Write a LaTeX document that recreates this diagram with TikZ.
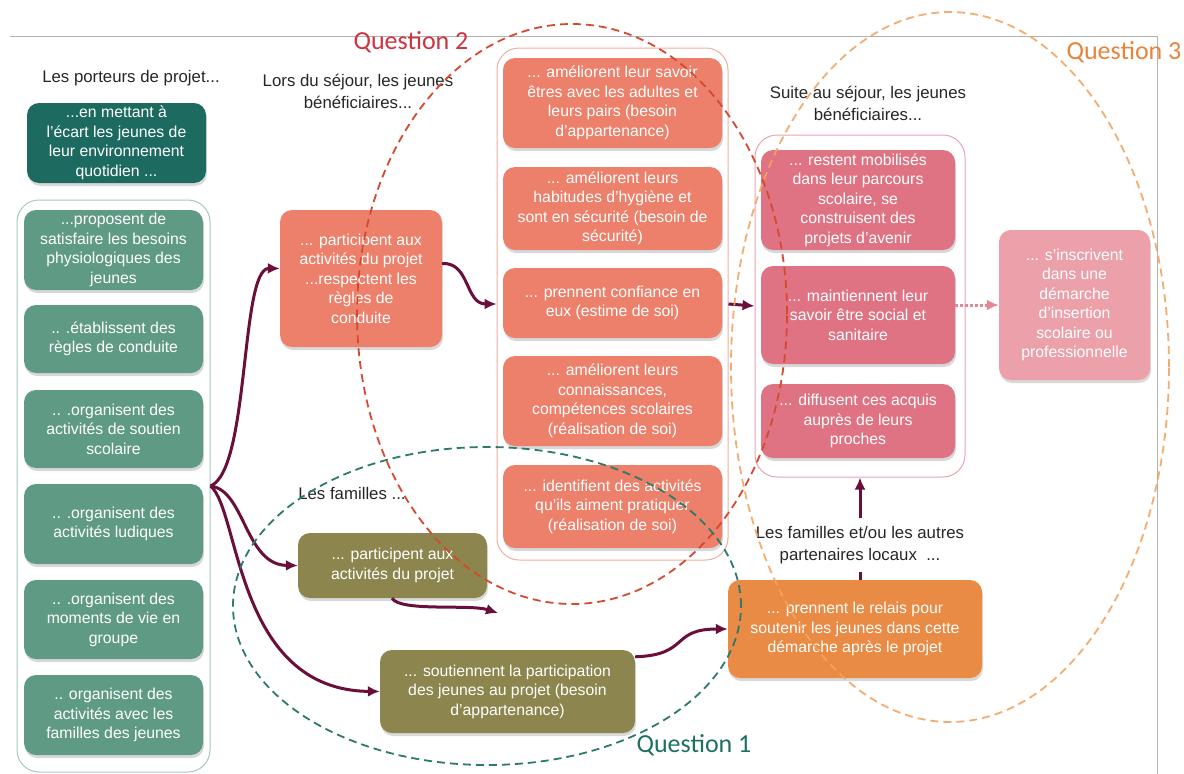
\documentclass[tikz,border=0pt]{standalone}
\usepackage{fontspec}
\setmainfont{Liberation Sans}
\newfontfamily\qfont{Carlito}
\usetikzlibrary{arrows.meta,shadows}
\definecolor{cdark}{HTML}{1D6B60}
\definecolor{cgreen}{HTML}{5F9A85}
\definecolor{csalmon}{HTML}{EC806A}
\definecolor{cpink}{HTML}{E07383}
\definecolor{clightpink}{HTML}{ECA1AA}
\definecolor{colive}{HTML}{8C854E}
\definecolor{corange}{HTML}{E98B45}
\definecolor{cmaroon}{HTML}{6A0E3B}
\definecolor{cgreenline}{HTML}{A7CABD}
\definecolor{csalmonline}{HTML}{F2AFA0}
\definecolor{cpinkline}{HTML}{EBA3AE}
\definecolor{qred}{HTML}{D6492E}
\definecolor{qredtext}{HTML}{D0323F}
\definecolor{qteal}{HTML}{2B7A6C}
\definecolor{qtealtext}{HTML}{1E6F63}
\definecolor{qorange}{HTML}{F2A461}
\definecolor{qorangetext}{HTML}{E8833A}
\begin{document}
\begin{tikzpicture}[x=1pt, y=-1pt,
    box/.style={rounded corners=12pt, align=center, text=white, inner sep=2pt,
      font=\fontsize{15.8}{19.5}\selectfont,
      drop shadow={shadow xshift=1pt, shadow yshift=-3pt, opacity=.3}},
    greenbox/.style={box, fill=cgreen, minimum width=179pt},
    salmonbox/.style={box, fill=csalmon, minimum width=219pt},
    pinkbox/.style={box, fill=cpink, minimum width=194pt},
    olivebox/.style={box, fill=colive},
    cont/.style={rounded corners=22pt, line width=1pt, fill=white},
    head/.style={align=center, text=black!85, font=\fontsize{16.8}{22}\selectfont},
    flow/.style={draw=cmaroon, line width=3pt, -{Latex[length=12pt,width=11pt]}},
    link/.style={draw=cmaroon, line width=3pt},
    question/.style={line width=1.8pt, dash pattern=on 8pt off 5pt},
    qlabel/.style={font=\qfont\fontsize{26}{28}\selectfont}
  ]
  \useasboundingbox (0,0) rectangle (1184,774);
  \draw[black!30, line width=1pt] (10,36) -- (1157,36) -- (1157,774);

  \node[head] (porteurs) at (131,78) {Les porteurs de projet...};
  \node[box, fill=cdark, minimum width=179pt, minimum height=80pt] (ecart) at (116.5,143)
    {...en mettant à\\l’écart les jeunes de\\leur environnement\\quotidien ...};
  \node[cont, draw=cgreenline, minimum width=193pt, minimum height=572pt] (lcont) at (113.5,486) {};
  \foreach \n/\y/\h/\t in {
      g1/250/80/{...proposent de\\satisfaire les besoins\\physiologiques des\\jeunes},
      g2/339/68/{.. .établissent des\\règles de conduite},
      g3/429/78/{.. .organisent des\\activités de soutien\\scolaire},
      g4/524/80/{.. .organisent des\\activités ludiques},
      g5/619.5/79/{.. .organisent des\\moments de vie en\\groupe},
      g6/715/80/{.. organisent des\\activités avec les\\familles des jeunes}}
    \node[greenbox, minimum height=\h pt] (\n) at (113.5,\y) {\t};

  \node[head] (lors) at (358,91) {Lors du séjour, les jeunes\\bénéficiaires...};
  \node[box, fill=csalmon, minimum width=162pt, minimum height=137pt] (part) at (361,278.5)
    {... participent aux\\activités du projet\\...respectent les\\règles de\\conduite};

  \node[cont, draw=csalmonline, minimum width=231pt, minimum height=512pt] (mcont) at (612.5,304) {};
  \foreach \n/\y/\h/\t in {
      s1/103/90/{... améliorent leur savoir\\êtres avec les adultes et\\leurs pairs (besoin\\d’appartenance)},
      s2/208.5/83/{... améliorent leurs\\habitudes d’hygiène et\\sont en sécurité (besoin de\\sécurité)},
      s3/303/70/{... prennent confiance en\\eux (estime de soi)},
      s4/401/90/{... améliorent leurs\\connaissances,\\compétences scolaires\\(réalisation de soi)},
      s5/506.5/83/{... identifient des activités\\qu’ils aiment pratiquer\\(réalisation de soi)}}
    \node[salmonbox, minimum height=\h pt] (\n) at (612.5,\y) {\t};

  \node[head] (suite) at (868,103) {Suite au séjour, les jeunes\\bénéficiaires...};
  \node[cont, draw=cpinkline, minimum width=210pt, minimum height=342pt] (rcont) at (860,306) {};
  \foreach \n/\y/\h/\t in {
      p1/200/100/{... restent mobilisés\\dans leur parcours\\scolaire, se\\construisent des\\projets d’avenir},
      p2/315/98/{... maintiennent leur\\savoir être social et\\sanitaire},
      p3/421/74/{... diffusent ces acquis\\auprès de leurs\\proches}}
    \node[pinkbox, minimum height=\h pt] (\n) at (858,\y) {\t};
  \node[box, fill=clightpink, draw=cpink!80, dotted, minimum width=151pt, minimum height=150pt] (inscr) at (1074.5,305)
    {... s’inscrivent\\dans une\\démarche\\d’insertion\\scolaire ou\\professionnelle};

  \node[head] (familles) at (352,493) {Les familles ...};
  \node[olivebox, minimum width=189pt, minimum height=65pt] (o1) at (392.5,565.5)
    {... participent aux\\activités du projet};
  \node[olivebox, minimum width=255pt, minimum height=83pt] (o2) at (507.5,691.5)
    {... soutiennent la participation\\des jeunes au projet (besoin\\d’appartenance)};
  \node[box, fill=corange, minimum width=254pt, minimum height=98pt] (relais) at (855,629)
    {... prennent le relais pour\\soutenir les jeunes dans cette\\démarche après le projet};
  \node[head, inner ysep=8pt] (partenaires) at (860,545) {Les familles et/ou les autres\\partenaires locaux\ \ ...};
  \coordinate (famend) at (498,613);

  \draw[flow] (lcont.east) .. controls (250,470) and (240,268) .. ([yshift=10pt]part.west);
  \draw[flow] (lcont.east) .. controls (245,490) and (245,565) .. (o1.west);
  \draw[flow] (lcont.east) .. controls (240,510) and (235,690) .. (o2.west);
  \draw[flow] ([yshift=15pt]part.east) .. controls (470,262) and (465,304) .. (mcont.west);
  \draw[flow] (mcont.east) -- (rcont.west);
  \draw[flow, draw=cpink!85, dotted] (inscr.west -| p2.east) -- (inscr.west);
  \draw[flow] ([xshift=-0.5pt]o1.south) .. controls (400,612) and (470,604) .. (famend);
  \draw[flow] ([yshift=-7pt]o2.north east) .. controls (690,655) and (670,629) .. (relais.west);
  \draw[link] (relais.north -| rcont.south) -- (partenaires.south -| rcont.south);
  \draw[flow] (partenaires.north -| rcont.south) -- (rcont.south);

  \draw[question, qred] (572,314) ellipse [x radius=215pt, y radius=290pt];
  \draw[question, qteal] (487,606) ellipse [x radius=254pt, y radius=159pt];
  \draw[question, qorange, opacity=.9] (950,367) ellipse [x radius=219pt, y radius=355pt];
  \node[qlabel, text=qredtext] (q2) at (411,42) {Question 2};
  \node[qlabel, text=qorangetext] (q3) at (1124,52) {Question 3};
  \node[qlabel, text=qtealtext] (q1) at (694,745) {Question 1};
\end{tikzpicture}
\end{document}
